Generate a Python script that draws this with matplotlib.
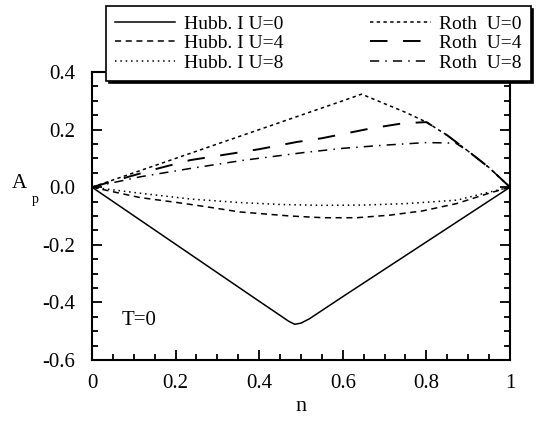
import matplotlib

matplotlib.use("Agg")
import matplotlib.pyplot as plt
from matplotlib.ticker import MultipleLocator, FixedLocator

plt.rcParams["font.family"] = ["Liberation Serif", "DejaVu Serif"]

# Hubbard I approximation
n_h0 = [0, 0.1, 0.2, 0.3, 0.4, 0.45, 0.47, 0.485, 0.5, 0.52, 0.6, 0.7, 0.8, 0.9, 1.0]
a_h0 = [0, -0.099, -0.198, -0.297, -0.396, -0.445, -0.465, -0.476, -0.472, -0.457,
        -0.38, -0.285, -0.19, -0.095, 0]

n_h4 = [0, 0.115, 0.203, 0.274, 0.354, 0.474, 0.553, 0.633, 0.713, 0.792, 0.872, 0.952, 1.0]
a_h4 = [0, -0.036, -0.053, -0.068, -0.086, -0.100, -0.106, -0.106, -0.097, -0.082,
        -0.057, -0.020, 0]

n_h8 = [0, 0.115, 0.235, 0.35, 0.45, 0.55, 0.65, 0.75, 0.873, 0.95, 1.0]
a_h8 = [0, -0.021, -0.041, -0.053, -0.060, -0.063, -0.062, -0.057, -0.045, -0.017, 0]

# Roth approximation
n_r0 = [0, 0.1, 0.2, 0.3, 0.4, 0.5, 0.6, 0.645, 0.7, 0.75, 0.8, 0.85, 0.9, 0.95, 1.0]
a_r0 = [0, 0.05, 0.10, 0.15, 0.20, 0.25, 0.30, 0.323, 0.29, 0.26, 0.226, 0.18, 0.125,
        0.068, 0]

n_r4 = [0, 0.075, 0.15, 0.235, 0.34, 0.4, 0.49, 0.55, 0.67, 0.745, 0.8, 0.85, 0.9, 0.95, 1.0]
a_r4 = [0, 0.031, 0.062, 0.094, 0.118, 0.132, 0.157, 0.17, 0.205, 0.222, 0.226, 0.18,
        0.125, 0.068, 0]

n_r8 = [0, 0.115, 0.235, 0.36, 0.505, 0.6, 0.7, 0.8, 0.87, 0.9, 0.95, 1.0]
a_r8 = [0, 0.036, 0.065, 0.093, 0.120, 0.135, 0.146, 0.155, 0.153, 0.125, 0.068, 0]

x_ticks = [0, 0.2, 0.4, 0.6, 0.8, 1.0]
x_labels = ["0", "0.2", "0.4", "0.6", "0.8", "1"]
y_ticks = [-0.6, -0.4, -0.2, 0.0, 0.2, 0.4]
y_labels = ["-0.6", "-0.4", "-0.2", "0.0", "0.2", "0.4"]

fig = plt.figure(figsize=(5.37, 4.22), dpi=100)
ax = fig.add_axes([0.1713, 0.1469, 0.7784, 0.6825])

lw = 1.1
ax.plot(n_h0, a_h0, color="black", lw=lw, ls="-", label="Hubb. I U=0")
ax.plot(n_h4, a_h4, color="black", lw=lw, ls=(0, (4, 3)), label="Hubb. I U=4")
ax.plot(n_h8, a_h8, color="black", lw=lw, ls=(0, (1, 2.5)), label="Hubb. I U=8")
ax.plot(n_r0, a_r0, color="black", lw=lw, ls=(0, (2.2, 2.2)), label="Roth  U=0")
ax.plot(n_r4, a_r4, color="black", lw=lw + 0.3, ls=(0, (9, 8)), label="Roth  U=4")
ax.plot(n_r8, a_r8, color="black", lw=lw, ls=(0, (6, 4, 1, 4)), label="Roth  U=8")

ax.set_xlim(0, 1)
ax.set_ylim(-0.6, 0.4)
ax.xaxis.set_major_locator(FixedLocator(x_ticks))
ax.set_xticklabels(x_labels)
ax.yaxis.set_major_locator(FixedLocator(y_ticks))
ax.set_yticklabels(y_labels)
ax.xaxis.set_minor_locator(MultipleLocator(0.05))
ax.yaxis.set_minor_locator(MultipleLocator(0.05))
ax.tick_params(which="both", direction="in", top=True, right=True, width=1.3,
               labelsize=15, colors="black")
ax.tick_params(which="major", length=7)
ax.tick_params(which="minor", length=4)
ax.tick_params(axis="y", which="major", pad=12)
ax.tick_params(axis="x", which="major", pad=10)
for sp in ax.spines.values():
    sp.set_linewidth(1.5)

ax.set_xlabel("n", fontsize=16, labelpad=3)
fig.text(0.022, 0.566, "A", fontsize=15, ha="left", va="center")
fig.text(0.059, 0.528, "p", fontsize=10, ha="left", va="center")
ax.text(0.072, -0.462, "T=0", fontsize=15, ha="left", va="center")

leg = fig.legend(loc="upper left", bbox_to_anchor=(0.197, 0.985), ncol=2,
                 fontsize=14, handlelength=3.1, columnspacing=4.5,
                 labelspacing=0.1, handletextpad=0.45, borderpad=0.45,
                 borderaxespad=0, fancybox=False,
                 shadow={"color": "black", "alpha": 1},
                 framealpha=1, edgecolor="black")
leg.get_frame().set_linewidth(1.2)

fig.savefig("out.png", dpi=100)
